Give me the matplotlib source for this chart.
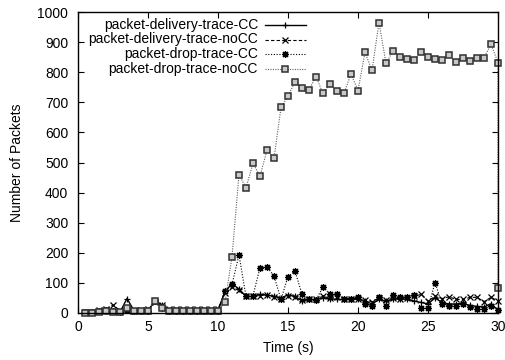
import matplotlib
matplotlib.use("Agg")
import matplotlib.pyplot as plt
from matplotlib.lines import Line2D

plt.rcParams['font.family'] = ['Liberation Sans', 'DejaVu Sans']

# sample times (s), one sample every 0.5 s
time_s = [0.5 * (i + 1) for i in range(60)]

delivery_cc = [2, 2, 5, 5, 8, 3, 48, 8, 8, 8,
               40, 25, 8, 8, 8, 8, 8, 8, 8, 8,
               72, 97, 80, 55, 55, 62, 60, 55, 50, 60,
               55, 40, 45, 44, 50, 48, 45, 45, 45, 48,
               40, 30, 45, 40, 45, 48, 45, 40, 35, 30,
               50, 35, 30, 30, 32, 25, 22, 20, 30, 10]

delivery_nocc = [2, 3, 10, 12, 27, 8, 12, 8, 10, 12,
                 38, 28, 13, 13, 13, 13, 14, 13, 14, 14,
                 65, 85, 75, 55, 55, 58, 60, 52, 48, 55,
                 52, 42, 48, 48, 55, 50, 52, 48, 48, 45,
                 42, 38, 50, 42, 50, 48, 50, 55, 62, 40,
                 55, 48, 54, 45, 45, 52, 52, 38, 52, 40]

drop_cc = [2, 2, 8, 10, 5, 3, 10, 5, 5, 8,
           40, 18, 8, 8, 8, 8, 8, 8, 8, 8,
           72, 95, 193, 55, 58, 150, 153, 123, 45, 121,
           140, 62, 45, 44, 86, 63, 63, 45, 45, 52,
           30, 24, 54, 24, 59, 52, 52, 59, 16, 16,
           101, 30, 24, 24, 30, 20, 12, 12, 24, 10]

# the last interval is reported twice for this trace
drop_nocc_time = time_s + [30.0]
drop_nocc = [0, 0, 3, 5, 3, 2, 15, 5, 5, 6,
             40, 18, 8, 8, 8, 8, 8, 8, 8, 8,
             35, 187, 460, 416, 497, 455, 540, 514, 683, 720,
             768, 747, 742, 785, 730, 762, 739, 730, 794, 739,
             866, 806, 965, 829, 871, 850, 844, 840, 868, 852,
             844, 840, 857, 834, 847, 836, 846, 848, 893, 832, 82]

labels = ["packet-delivery-trace-CC", "packet-delivery-trace-noCC",
          "packet-drop-trace-CC", "packet-drop-trace-noCC"]

FS = 10
asterisk = (8, 2, 0)
styles = [
    dict(color='black', linestyle='-', linewidth=1.0, marker='+', markersize=5, markeredgewidth=0.9),
    dict(color='black', linestyle=(0, (3, 2)), linewidth=0.8, marker='x', markersize=4.5, markeredgewidth=0.9),
    dict(color='black', linestyle=(0, (1, 1.5)), linewidth=0.8, marker=asterisk, markersize=5, markeredgewidth=0.9),
    dict(color='#606060', linestyle=(0, (1, 1.2)), linewidth=0.8, marker='s', markersize=4.5,
         markerfacecolor='#c8c8c8', markeredgecolor='#303030', markeredgewidth=1.1),
]

fig = plt.figure(figsize=(5.06, 3.6), dpi=100)
ax = fig.add_axes([78 / 506, 1 - 313 / 360, 420 / 506, 301 / 360])

series = [(time_s, delivery_cc), (time_s, delivery_nocc),
          (time_s, drop_cc), (drop_nocc_time, drop_nocc)]
for (xs, ys), st in zip(series, styles):
    ax.plot(xs, ys, clip_on=False, **st)

ax.set_xlim(0, 30)
ax.set_ylim(0, 1000)
ax.set_xticks(range(0, 31, 5))
ax.set_yticks(range(0, 1001, 100))
ax.tick_params(direction='in', length=4, width=0.8, top=True, right=True,
               labelsize=FS, colors='black')
ax.tick_params(axis='y', pad=7)
ax.tick_params(axis='x', pad=5)
for sp in ax.spines.values():
    sp.set_linewidth(1.0)

ax.set_xlabel("Time (s)", fontsize=FS, labelpad=5)
ax.set_ylabel("Number of Packets", fontsize=FS, labelpad=10)

# key in the upper left: right-aligned titles followed by line samples
line_keys = ('color', 'linestyle', 'linewidth')
for i, (lab, st) in enumerate(zip(labels, styles)):
    y_px = 25 + i * 14.5
    yf = 1 - (y_px - 12) / 301
    ax.text((258 - 78) / 420, yf, lab, transform=ax.transAxes, ha='right', va='center',
            fontsize=FS)
    x0, x1 = (265 - 78) / 420, (306 - 78) / 420
    ax.add_line(Line2D([x0, x1], [yf, yf], transform=ax.transAxes,
                       **{k: v for k, v in st.items() if k in line_keys}))
    ax.add_line(Line2D([(x0 + x1) / 2], [yf], transform=ax.transAxes, linestyle='none',
                       **{k: v for k, v in st.items() if k not in ('linestyle', 'linewidth')}))

fig.savefig("out.png", dpi=100)
